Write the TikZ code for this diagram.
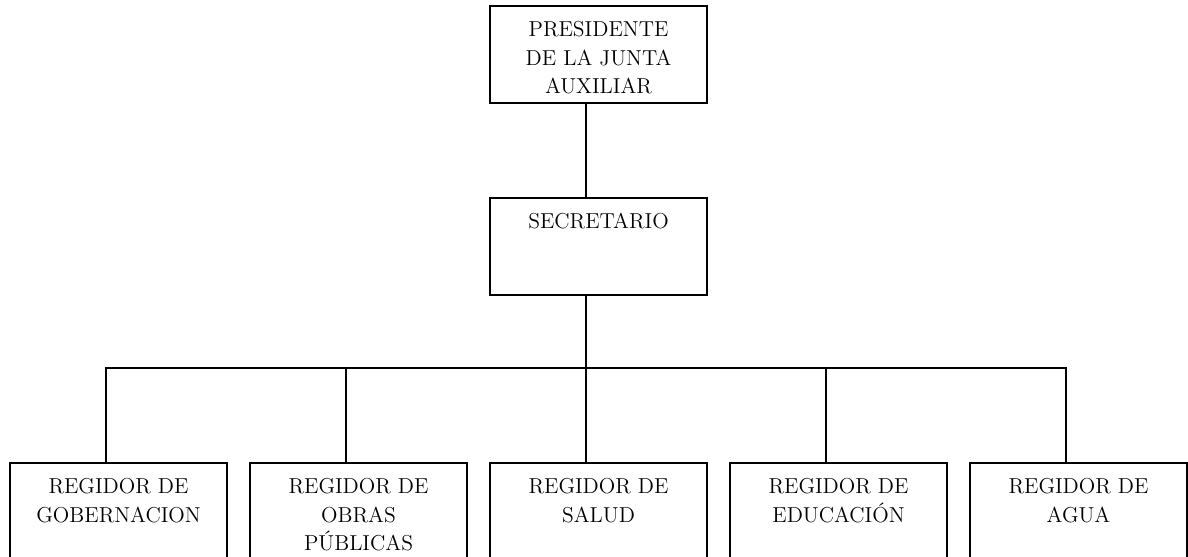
\documentclass[tikz,border=0pt]{standalone}
\usetikzlibrary{calc}

\tikzset{
  cargo/.style={draw, line width=1.2pt, inner sep=0pt, anchor=north west,
    font=\fontsize{12.3}{16.4}\selectfont,
    execute at begin node={\begin{minipage}[t][1.94cm][t]{4.34cm}\centering\vspace*{8.5pt}},
    execute at end node={\end{minipage}}},
  linea/.style={line width=1.1pt}
}

\begin{document}
\begin{tikzpicture}[x=0.02cm, y=-0.02cm]
   \clip (0,0) rectangle (1188,556);

   \node[cargo] (presidente) at (489,5) {PRESIDENTE\\DE LA JUNTA\\AUXILIAR};
   \node[cargo] (secretario) at (489,197) {SECRETARIO};

   \foreach \i/\txt in {1/{REGIDOR DE\\GOBERNACION}, 2/{REGIDOR DE\\OBRAS\\PÚBLICAS},
                        3/{REGIDOR DE\\SALUD}, 4/{REGIDOR DE\\EDUCACIÓN}, 5/{REGIDOR DE\\AGUA}} {
     \node[cargo] (r\i) at (9+240*\i-240,462) {\txt};
   }

   % lines hang a bit left of the middle
   \draw[linea] ($(presidente.south west)+(97,0)$) -- ($(secretario.north west)+(97,0)$);
   \draw[linea] ($(secretario.south west)+(97,0)$) -- ++(0,72) coordinate (barra);
   \foreach \i in {1,...,5}
     \draw[linea] ($(r\i.north west)+(97,0)$) |- (barra);
\end{tikzpicture}
\end{document}
